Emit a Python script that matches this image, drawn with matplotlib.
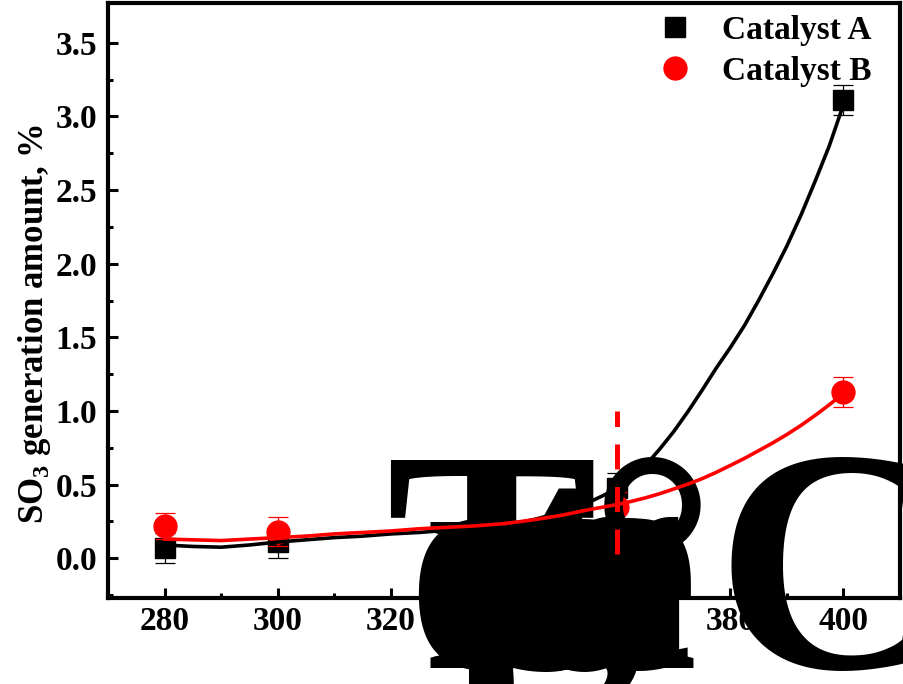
import matplotlib
matplotlib.use("Agg")
import matplotlib.pyplot as plt
from matplotlib.lines import Line2D

# measured points (temperature in C, SO3 amount in %)
temps = [280, 300, 360, 400]
cat_a = [0.07, 0.11, 0.48, 3.11]
cat_a_err = [0.10, 0.11, 0.10, 0.10]
cat_b = [0.22, 0.18, 0.35, 1.13]
cat_b_err = [0.09, 0.10, 0.10, 0.10]

# fitted trend curves
fit_t = [280, 285, 290, 295, 300, 305, 310, 315, 320, 325, 330, 335,
         340, 342.5, 345, 347.5, 350, 352.5, 355, 357.5, 360, 362.5, 365,
         367.5, 370, 372.5, 375, 377.5, 380, 382.5, 385, 387.5, 390, 392.5,
         395, 397.5, 400]
fit_a = [0.09, 0.08, 0.075, 0.09, 0.11, 0.125, 0.14, 0.15, 0.165, 0.175,
         0.19, 0.205,
         0.225, 0.24, 0.26, 0.285, 0.31, 0.345, 0.38, 0.425, 0.475, 0.545,
         0.63, 0.74, 0.86, 0.995, 1.14, 1.29, 1.43, 1.58, 1.75, 1.93, 2.12,
         2.33, 2.56, 2.80, 3.08]
fit_b = [0.13, 0.125, 0.12, 0.13, 0.14, 0.15, 0.165, 0.175, 0.185, 0.20,
         0.21, 0.22,
         0.235, 0.247, 0.26, 0.275, 0.29, 0.31, 0.33, 0.347, 0.365, 0.386,
         0.41, 0.438, 0.47, 0.503, 0.54, 0.583, 0.63, 0.678, 0.73, 0.783,
         0.84, 0.902, 0.97, 1.042, 1.12]

# vertical marker line
mark_t = 360
mark_y = [0.03, 1.00]

xticks = [280, 300, 320, 340, 360, 380, 400]
yticks = [0.0, 0.5, 1.0, 1.5, 2.0, 2.5, 3.0, 3.5]

# x title, one glyph per entry with its left position (figure pixels)
title_chars = ["T", "e", "m", "p", "e", "r", "a", "t", "u", "r", "e", ",", "\u00b0", "C"]
title_px = [385, 407, 422, 449, 467, 482, 497, 513, 524, 543, 557, 572, 589, 716]

plt.rcParams['font.family'] = ['Liberation Serif', 'DejaVu Serif']
plt.rcParams['font.weight'] = 'bold'
plt.rcParams['mathtext.fontset'] = 'custom'
plt.rcParams['mathtext.bf'] = 'Liberation Serif:bold'
plt.rcParams['mathtext.rm'] = 'Liberation Serif:bold'

W, H = 904, 684
fig = plt.figure(figsize=(W / 100, H / 100), dpi=100)
ax = fig.add_axes([108 / W, 86 / H, 792 / W, 595 / H])

# data points with error bars
ax.errorbar(temps, cat_a, yerr=cat_a_err, fmt='s', color='black', ms=14,
            elinewidth=0.9, capsize=7, capthick=0.9, zorder=1)
ax.errorbar(temps, cat_b, yerr=cat_b_err, fmt='o', color='red', ms=16.5,
            elinewidth=0.9, capsize=7, capthick=0.9, zorder=1.1)

# big axis title glyphs
for ch, px in zip(title_chars, title_px):
    ax.text(px / W, 16 / H, ch, transform=fig.transFigure, fontsize=229,
            fontweight='bold', ha='left', va='baseline', clip_on=False,
            zorder=1.5)

# trend curves and marker line
ax.plot(fit_t, fit_a, color='black', lw=2.6, zorder=2)
ax.plot(fit_t, fit_b, color='red', lw=2.6, zorder=2.1)
ax.plot([mark_t, mark_t], mark_y, color='red', lw=3.6,
        linestyle=(0, (5, 3.5)), zorder=2.2)

ax.set_xlim(270, 410)
ax.set_ylim(-0.27, 3.77)
ax.set_xticks(xticks)
ax.set_yticks(yticks)
ax.set_xticklabels([str(t) for t in xticks])
ax.set_yticklabels(["%.1f" % v for v in yticks])
ax.set_xticks(range(270, 411, 10), minor=True)
ax.set_yticks([v / 4 for v in range(-1, 15)], minor=True)

for s in ax.spines.values():
    s.set_linewidth(3)
ax.tick_params(which='major', direction='in', length=7, width=2.2,
               labelsize=24, pad=6)
ax.tick_params(which='minor', direction='in', length=3.5, width=2.2)
ax.tick_params(axis='y', which='both', pad=8)

ax.set_ylabel(r"SO$_{\mathbf{3}}$ generation amount, %", fontsize=25,
              fontweight='bold')
ax.yaxis.set_label_coords(-0.07, 0.46)

handles = [
    Line2D([], [], ls='none', marker='s', color='black', ms=14),
    Line2D([], [], ls='none', marker='o', color='red', ms=16.5),
]
ax.legend(handles, ['Catalyst A', 'Catalyst B'], loc='upper right',
          frameon=False, fontsize=24, handletextpad=0.4, borderaxespad=0.1,
          bbox_to_anchor=(0.985, 1.008), labelspacing=0.3)

fig.savefig("out.png", dpi=100)
